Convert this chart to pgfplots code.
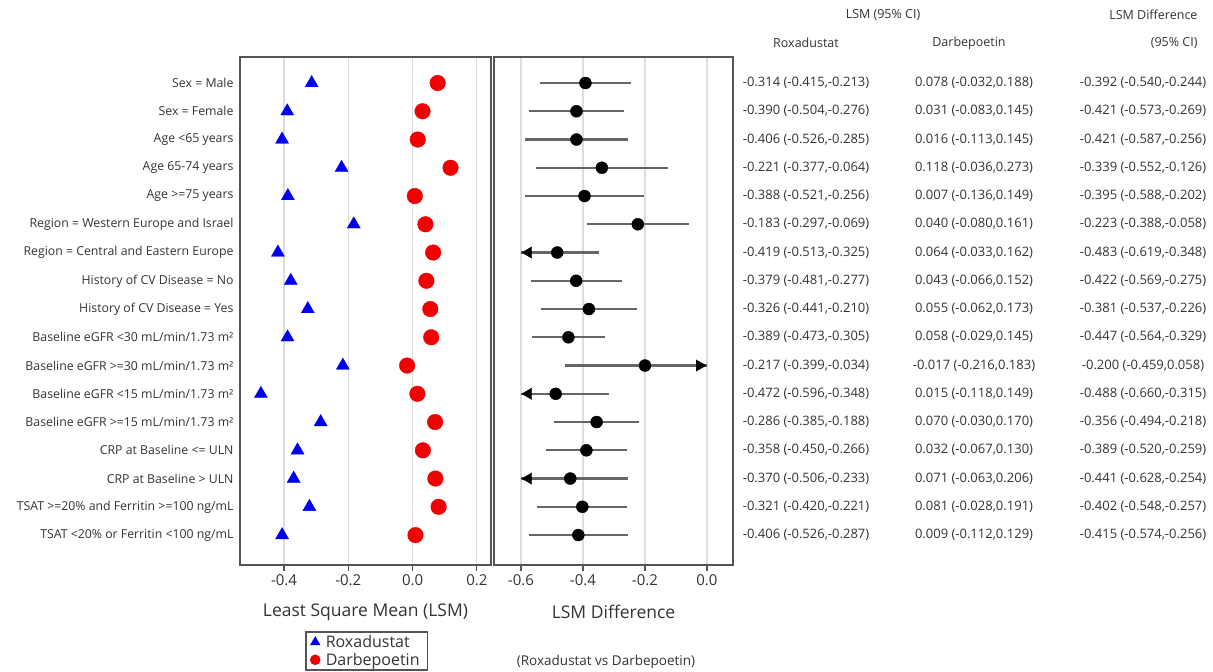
\documentclass[border=0pt]{standalone}
\usepackage{fontspec}
\setmainfont{Open Sans}
\usepackage{pgfplots}
\pgfplotsset{compat=1.18}
\usepackage{pgfplotstable}

\definecolor{txt}{HTML}{333333}
\definecolor{framec}{HTML}{555555}
\definecolor{gridc}{HTML}{DDDDDD}
\definecolor{whisk}{HTML}{666666}
\definecolor{roxa}{HTML}{0000F0}
\definecolor{darb}{HTML}{F00000}

\pgfplotstableread{
row rox darb diff lo hi
1 -0.314 0.078 -0.392 -0.540 -0.244
2 -0.390 0.031 -0.421 -0.573 -0.269
3 -0.406 0.016 -0.421 -0.587 -0.256
4 -0.221 0.118 -0.339 -0.552 -0.126
5 -0.388 0.007 -0.395 -0.588 -0.202
6 -0.183 0.040 -0.223 -0.388 -0.058
7 -0.419 0.064 -0.483 -0.619 -0.348
8 -0.379 0.043 -0.422 -0.569 -0.275
9 -0.326 0.055 -0.381 -0.537 -0.226
10 -0.389 0.058 -0.447 -0.564 -0.329
11 -0.217 -0.017 -0.200 -0.459 0.058
12 -0.472 0.015 -0.488 -0.660 -0.315
13 -0.286 0.070 -0.356 -0.494 -0.218
14 -0.358 0.032 -0.389 -0.520 -0.259
15 -0.370 0.071 -0.441 -0.628 -0.254
16 -0.321 0.081 -0.402 -0.548 -0.257
17 -0.406 0.009 -0.415 -0.574 -0.256
}\data

\pgfplotsset{panel/.style={
  scale only axis, height=508pt, anchor=south west,
  ymin=0.08, ymax=18.06, y dir=reverse,
  axis line style={framec, line width=1.5pt},
  xmajorgrids, grid style={gridc, line width=1.2pt},
  tick align=outside, xtick pos=bottom, major tick length=6pt,
  x tick style={framec, line width=1.2pt},
  xticklabel style={font=\fontsize{15}{15}\selectfont, text=txt},
  xlabel style={font=\fontsize{17.5}{18}\selectfont, text=txt,
    at={(axis description cs:0.5,-0.0925)}, anchor=center},
}}

\begin{document}
\begin{tikzpicture}
\path[use as bounding box] (0,0) rectangle (1213pt,-672pt);

% Left panel: LSM
\begin{axis}[panel, at={(240pt,-565pt)}, width=251pt,
  xmin=-0.537, xmax=0.244,
  xtick={-0.4,-0.2,0,0.2}, xticklabels={-0.4,-0.2,0.0,0.2},
  ytick={1,...,17}, ytick pos=left, y tick style={draw=none},
  yticklabel style={font=\fontsize{12.3}{12}\selectfont, text=txt, xshift=3pt},
  yticklabels={Sex = Male, Sex = Female, Age <65 years, Age 65-74 years, Age >=75 years,
    Region = Western Europe and Israel, Region = Central and Eastern Europe,
    History of CV Disease = No, History of CV Disease = Yes,
    Baseline eGFR <30 mL/min/1.73 m², Baseline eGFR >=30 mL/min/1.73 m²,
    Baseline eGFR <15 mL/min/1.73 m², Baseline eGFR >=15 mL/min/1.73 m²,
    CRP at Baseline <= ULN, CRP at Baseline > ULN,
    TSAT >=20\% and Ferritin >=100 ng/mL, TSAT <20\% or Ferritin <100 ng/mL},
  xlabel={Least Square Mean (LSM)},
  legend style={at={(0.259,-0.13)}, anchor=north west, draw=framec, line width=1.5pt,
    nodes={font=\fontsize{16}{16}\selectfont, text=txt, inner xsep=3pt},
    column sep=3pt, row sep=0pt, inner xsep=5pt, inner ysep=1.5pt},
  legend image post style={mark size=4.5pt},
  legend cell align=left,
]
\addplot[only marks, mark=triangle*, mark size=7.5pt, color=roxa] table[x=rox, y=row]{\data};
\addlegendentry{Roxadustat}
\addplot[only marks, mark=*, mark size=7.8pt, color=darb] table[x=darb, y=row]{\data};
\addlegendentry{Darbepoetin}
\end{axis}

% Right panel: LSM difference
\begin{axis}[panel, at={(494pt,-565pt)}, width=239pt,
  xmin=-0.687, xmax=0.084,
  xtick={-0.6,-0.4,-0.2,0}, xticklabels={-0.6,-0.4,-0.2,0.0},
  ytick=\empty,
  xlabel={LSM Difference},
]
\addplot[whisk, line width=2.2pt, only marks, mark=none,
  error bars/.cd, x dir=both, x explicit, error mark=none,
  error bar style={whisk, line width=2.2pt}]
  table[x=diff, y=row,
    x error plus expr={min(\thisrow{hi},0)-\thisrow{diff}},
    x error minus expr={\thisrow{diff}-max(\thisrow{lo},-0.6)}]{\data};
\addplot[only marks, mark=*, mark size=6pt, black] table[x=diff, y=row]{\data};
\addplot[only marks, mark=triangle*, mark size=6.5pt, black,
  mark options={xshift=7.5pt, rotate=90}] coordinates {(-0.6,7) (-0.6,12) (-0.6,15)};
\addplot[only marks, mark=triangle*, mark size=6.5pt, black,
  mark options={xshift=-7.5pt, rotate=-90}] coordinates {(0,11)};
\end{axis}

% Text columns
\begin{scope}[every node/.style={font=\fontsize{13}{13}\selectfont, text=txt}]
\foreach \i/\a/\b/\c in {
 1/{-0.314 (-0.415,-0.213)}/{0.078 (-0.032,0.188)}/{-0.392 (-0.540,-0.244)},
 2/{-0.390 (-0.504,-0.276)}/{0.031 (-0.083,0.145)}/{-0.421 (-0.573,-0.269)},
 3/{-0.406 (-0.526,-0.285)}/{0.016 (-0.113,0.145)}/{-0.421 (-0.587,-0.256)},
 4/{-0.221 (-0.377,-0.064)}/{0.118 (-0.036,0.273)}/{-0.339 (-0.552,-0.126)},
 5/{-0.388 (-0.521,-0.256)}/{0.007 (-0.136,0.149)}/{-0.395 (-0.588,-0.202)},
 6/{-0.183 (-0.297,-0.069)}/{0.040 (-0.080,0.161)}/{-0.223 (-0.388,-0.058)},
 7/{-0.419 (-0.513,-0.325)}/{0.064 (-0.033,0.162)}/{-0.483 (-0.619,-0.348)},
 8/{-0.379 (-0.481,-0.277)}/{0.043 (-0.066,0.152)}/{-0.422 (-0.569,-0.275)},
 9/{-0.326 (-0.441,-0.210)}/{0.055 (-0.062,0.173)}/{-0.381 (-0.537,-0.226)},
 10/{-0.389 (-0.473,-0.305)}/{0.058 (-0.029,0.145)}/{-0.447 (-0.564,-0.329)},
 11/{-0.217 (-0.399,-0.034)}/{-0.017 (-0.216,0.183)}/{-0.200 (-0.459,0.058)},
 12/{-0.472 (-0.596,-0.348)}/{0.015 (-0.118,0.149)}/{-0.488 (-0.660,-0.315)},
 13/{-0.286 (-0.385,-0.188)}/{0.070 (-0.030,0.170)}/{-0.356 (-0.494,-0.218)},
 14/{-0.358 (-0.450,-0.266)}/{0.032 (-0.067,0.130)}/{-0.389 (-0.520,-0.259)},
 15/{-0.370 (-0.506,-0.233)}/{0.071 (-0.063,0.206)}/{-0.441 (-0.628,-0.254)},
 16/{-0.321 (-0.420,-0.221)}/{0.081 (-0.028,0.191)}/{-0.402 (-0.548,-0.257)},
 17/{-0.406 (-0.526,-0.287)}/{0.009 (-0.112,0.129)}/{-0.415 (-0.574,-0.256)}}
{
  \node at (806pt, {-83pt-28.25pt*(\i-1)}) {\a};
  \node at (974pt, {-83pt-28.25pt*(\i-1)}) {\b};
  \node at (1143pt, {-83pt-28.25pt*(\i-1)}) {\c};
}
\end{scope}
\begin{scope}[every node/.style={font=\fontsize{12.5}{12.5}\selectfont, text=txt}]
\node at (883pt,-15pt) {LSM (95\% CI)};
\node at (806pt,-43pt) {Roxadustat};
\node at (969pt,-43pt) {Darbepoetin};
\node[anchor=east] at (1201pt,-15pt) {LSM Difference};
\node[anchor=east] at (1201pt,-43pt) {(95\% CI)};
\node[font=\fontsize{13.5}{13.5}\selectfont] at (606pt,-662pt) {(Roxadustat vs Darbepoetin)};
\end{scope}
\end{tikzpicture}
\end{document}
